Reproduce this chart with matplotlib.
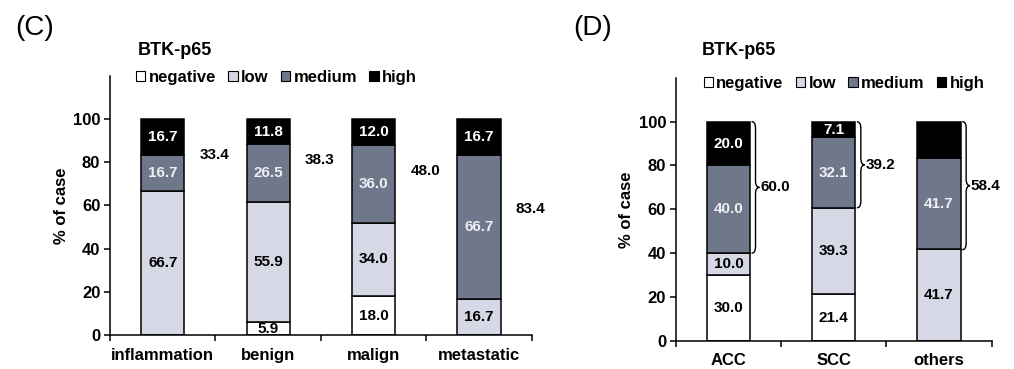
import matplotlib
matplotlib.use("Agg")
import matplotlib.pyplot as plt
from matplotlib.patches import Patch, PathPatch
from matplotlib.path import Path
import numpy as np

plt.rcParams['font.family'] = ['Liberation Sans', 'DejaVu Sans']
plt.rcParams['font.weight'] = 'bold'

levels = ["negative", "low", "medium", "high"]
colors = ["#ffffff", "#d6d8e6", "#6f778a", "#000000"]
label_colors = ["black", "black", "#eeeef4", "white"]

# Panel C
cats_c = ["inflammation", "benign", "malign", "metastatic"]
neg_c = [0.0, 5.9, 18.0, 0.0]
low_c = [66.7, 55.9, 34.0, 16.7]
med_c = [16.7, 26.5, 36.0, 66.7]
high_c = [16.7, 11.8, 12.0, 16.7]
sum_c = [33.4, 38.3, 48.0, 83.4]

# Panel D
cats_d = ["ACC", "SCC", "others"]
neg_d = [30.0, 21.4, 0.0]
low_d = [10.0, 39.3, 41.7]
med_d = [40.0, 32.1, 41.7]
high_d = [20.0, 7.1, 16.6]
sum_d = [60.0, 39.2, 58.4]
# segments that carry a printed value (others/high has none)
show_high_d = [True, True, False]

yticks = [0, 20, 40, 60, 80, 100]

fig = plt.figure(figsize=(10.14, 3.69), dpi=100)
axC = fig.add_axes([0.1085, 0.0921, 0.416, 0.702])
axD = fig.add_axes([0.6664, 0.0759, 0.3116, 0.7136])

W = 0.41


def draw_panel(ax, cats, series, show_masks, leg_xy, title_xy):
    x = np.arange(len(cats))
    bottom = np.zeros(len(cats))
    for k, vals in enumerate(series):
        vals = np.array(vals)
        ax.bar(x, vals, W, bottom=bottom, color=colors[k], edgecolor='black',
               linewidth=1.1, zorder=2)
        for i, v in enumerate(vals):
            if v > 0 and show_masks[k][i]:
                ax.text(x[i], bottom[i] + v / 2, f"{v:.1f}", ha='center', va='center',
                        fontsize=11, fontweight='bold', color=label_colors[k], zorder=3)
        bottom = bottom + vals
    ax.set_xlim(-0.5, len(cats) - 0.5)
    ax.set_ylim(0, 120)
    ax.set_yticks(yticks)
    ax.set_yticklabels([str(t) for t in yticks], fontsize=12, fontweight='bold')
    ax.set_xticks(x)
    ax.set_xticklabels(cats, fontsize=12, fontweight='bold')
    ax.set_xticks(np.arange(len(cats) + 1) - 0.5, minor=True)
    ax.tick_params(axis='x', which='major', length=0, pad=9)
    ax.tick_params(axis='x', which='minor', length=4, width=1.1, direction='out')
    ax.tick_params(axis='y', length=4, width=1.1, direction='out', pad=3)
    for s in ['top', 'right']:
        ax.spines[s].set_visible(False)
    for s in ['left', 'bottom']:
        ax.spines[s].set_linewidth(1.1)
    ax.set_ylabel("% of case", fontsize=12, fontweight='bold', labelpad=3)
    handles = [Patch(facecolor=c, edgecolor='black', linewidth=0.8) for c in colors]
    ax.legend(handles, levels, loc='center left', bbox_to_anchor=leg_xy, ncol=4,
              frameon=False, handlelength=0.55, handleheight=0.55, handletextpad=0.2,
              columnspacing=0.75, borderaxespad=0, prop={'weight': 'bold', 'size': 12})
    ax.text(title_xy[0], title_xy[1], "BTK-p65", transform=ax.transAxes, fontsize=13,
            fontweight='bold', ha='left', va='center')


ones4 = [True] * 4
draw_panel(axC, cats_c, [neg_c, low_c, med_c, high_c], [ones4, ones4, ones4, ones4],
           (0.046, 0.993), (0.066, 1.10))
ones3 = [True] * 3
draw_panel(axD, cats_d, [neg_d, low_d, med_d, high_d], [ones3, ones3, ones3, show_high_d],
           (0.067, 0.977), (0.083, 1.105))

# Panel C totals (medium + high), placed beside each bar
for i, s in enumerate(sum_c):
    axC.text(i + 0.49, 100 - s / 2, f"{s:.1f}", ha='center', va='center',
             fontsize=11, fontweight='bold')


def brace(ax, x0, y0, y1, w=0.075):
    ym = (y0 + y1) / 2
    r = w / 2
    h = 3.0
    verts = [(x0, y1), (x0 + r, y1), (x0 + r, y1 - h),
             (x0 + r, ym + h), (x0 + r, ym), (x0 + w, ym),
             (x0 + r, ym), (x0 + r, ym - h),
             (x0 + r, y0 + h), (x0 + r, y0), (x0, y0)]
    codes = [Path.MOVETO, Path.CURVE3, Path.CURVE3,
             Path.LINETO, Path.CURVE3, Path.CURVE3,
             Path.CURVE3, Path.CURVE3,
             Path.LINETO, Path.CURVE3, Path.CURVE3]
    ax.add_patch(PathPatch(Path(verts, codes), facecolor='none', edgecolor='black',
                           linewidth=1.0, zorder=3))
    return x0 + w, ym


for i, s in enumerate(sum_d):
    top = neg_d[i] + low_d[i] + med_d[i] + high_d[i]
    tip_x, tip_y = brace(axD, i + W / 2 + 0.015, top - s, top)
    axD.text(tip_x + 0.008, tip_y, f"{s:.1f}", ha='left', va='center',
             fontsize=11, fontweight='bold')

fig.text(15 / 1014, 1 - 28 / 369, "(C)", fontsize=20, fontweight='normal', va='center', ha='left')
fig.text(573 / 1014, 1 - 28 / 369, "(D)", fontsize=20, fontweight='normal', va='center', ha='left')

fig.savefig("out.png", dpi=100)
